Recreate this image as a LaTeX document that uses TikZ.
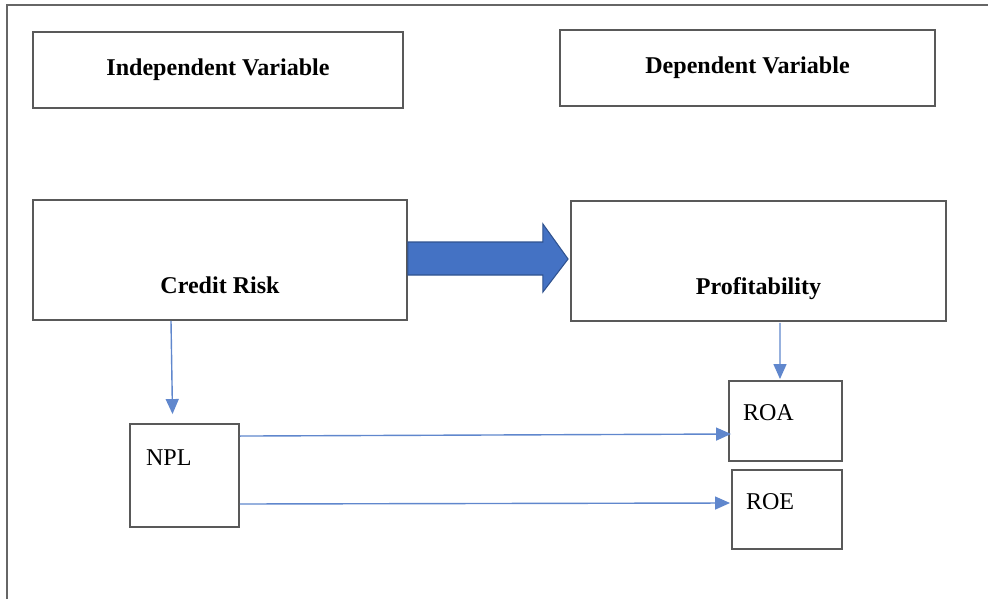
\documentclass[tikz,border=0pt]{standalone}
\usepackage{fontspec}
\setmainfont{Liberation Serif}
\usepackage{tikz}
\usetikzlibrary{arrows.meta, positioning, calc}

\definecolor{arrowblue}{RGB}{68,114,196}
\definecolor{arrowedge}{RGB}{47,82,143}

\begin{document}
\begin{tikzpicture}[
  x=0.02cm, y=-0.02cm,
  font=\fontsize{13.7}{16}\selectfont,
  head/.style={draw=black!65,line width=1.1pt,inner sep=0pt,font=\fontsize{13.7}{16}\selectfont\bfseries},
  factor/.style={head,inner ysep=0.1cm,text height=1.78cm,text depth=0.42cm},
  measure/.style={draw=black!65,line width=1.1pt,inner ysep=0pt,inner xsep=0.3cm,align=left},
  link/.style={-{Triangle[length=0.3cm,width=0.26cm]},arrowblue!85,line width=0.8pt},
  bigarrow/.style={fill=arrowblue,draw=arrowedge,line width=0.6pt,line join=miter}]

  % Rahmen
  \useasboundingbox (0,0) rectangle (988,599);
  \draw[black!60,line width=1.2pt] (7,599) -- (7,5) -- (988,5);

  % Kopfzeilen
  \node[head,minimum width=7.4cm,minimum height=1.52cm] (indep) at (218,70) {Independent Variable};
  \node[head,minimum width=7.5cm,minimum height=1.52cm] (dep) at (747.5,68) {Dependent Variable};

  % Variablen
  \node[factor,minimum width=7.48cm] (credit) at (220,260) {Credit Risk};
  \node[factor,minimum width=7.5cm] (profit) at (758.5,261) {Profitability};

  % Kennzahlen
  \node[measure,text width=1.54cm,inner xsep=0.32cm,text height=0.82cm,text depth=1.24cm] (npl) at (184.5,475.5) {NPL};
  \node[measure,text width=1.70cm,inner xsep=0.28cm,text height=0.78cm,text depth=0.82cm] (roa) at (785.5,421) {ROA};
  \node[measure,text width=1.64cm,inner xsep=0.28cm,text height=0.78cm,text depth=0.80cm] (roe) at (787,509.5) {ROE};

  % Blockpfeil
  \draw[bigarrow] ($(credit.east)+(0,-18)$) -- ++(135,0) -- ++(0,-18)
      -- ($(profit.west)+(-2,-2)$) -- ($(credit.east)+(135,32)$)
      -- ++(0,-17) -- ($(credit.east)+(0,15)$) -- cycle;

  % Verbindungen
  \draw[link] ($(credit.south)+(-49,0)$) -- ($(npl.north)+(-12,-9)$);
  \draw[link] ($(profit.south)+(21.5,1)$) -- ($(roa.north)+(-5.5,-1)$);
  \draw[link] ($(npl.north east)+(0,13)$) -- ($(roa.west)+(3,13)$);
  \draw[link] ($(npl.east)+(0,28.5)$) -- ($(roe.west)+(-1,-6.5)$);

\end{tikzpicture}
\end{document}
